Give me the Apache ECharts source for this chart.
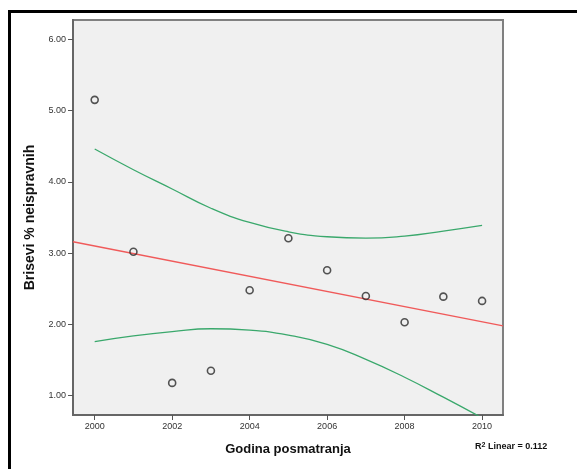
<!DOCTYPE html>
<html>
<head>
<meta charset="utf-8">
<script src="https://cdn.jsdelivr.net/npm/echarts@6/dist/echarts.min.js"></script>
<style>
  html, body { margin: 0; padding: 0; background: #fff; }
  #chart { width: 577px; height: 469px; }
</style>
</head>
<body>
<div id="chart"></div>
<script>
// podaci sa grafika
var godine = [2000, 2001, 2002, 2003, 2004, 2005, 2006, 2007, 2008, 2009, 2010];
var brisevi = [5.15, 3.02, 1.18, 1.35, 2.48, 3.21, 2.76, 2.40, 2.03, 2.39, 2.33];

// linearni fit (krajevi ocitani sa slike)
var fitX = [1999.44, 2010.54];
var fitY = [3.16, 1.98];

// granice intervala pouzdanosti
var gornja = [4.46, 4.17, 3.90, 3.63, 3.43, 3.30, 3.23, 3.21, 3.24, 3.31, 3.39];
var donja = [1.76, 1.84, 1.90, 1.94, 1.92, 1.85, 1.72, 1.51, 1.26, 0.98, 0.69];

var xTicks = [2000, 2002, 2004, 2006, 2008, 2010];
var yTicks = [1, 2, 3, 4, 5, 6];

function pairs(xs, ys) {
    return xs.map(function (x, i) { return [x, ys[i]]; });
}

var myChart = echarts.init(document.getElementById('chart'));
var option = {
    animation: false,
    textStyle: { fontFamily: 'Liberation Sans, Arial, sans-serif' },
    grid: {
        left: 73, top: 20, right: 74, bottom: 54,
        show: true,
        backgroundColor: '#f0f0f0',
        borderColor: '#808080',
        borderWidth: 2
    },
    xAxis: {
        type: 'value',
        min: 1999.44,
        max: 2010.54,
        name: 'Godina posmatranja',
        nameLocation: 'middle',
        nameGap: 28,
        nameTextStyle: { fontSize: 13, fontWeight: 'bold', color: '#111' },
        splitLine: { show: false },
        axisLine: { show: true, lineStyle: { color: '#666', width: 2 } },
        axisTick: { show: true, customValues: xTicks, length: 5, lineStyle: { color: '#555' } },
        axisLabel: {
            customValues: xTicks,
            fontSize: 9, color: '#333', margin: 7,
            formatter: function (v) { return String(v); }
        }
    },
    yAxis: {
        type: 'value',
        min: 0.73,
        max: 6.27,
        name: 'Brisevi % neispravnih',
        nameLocation: 'middle',
        nameGap: 35,
        nameRotate: 90,
        nameTextStyle: { fontSize: 14, fontWeight: 'bold', color: '#111' },
        splitLine: { show: false },
        axisLine: { show: true, lineStyle: { color: '#666', width: 2 } },
        axisTick: { show: true, customValues: yTicks, length: 5, lineStyle: { color: '#555' } },
        axisLabel: {
            customValues: yTicks,
            fontSize: 9, color: '#333', margin: 7,
            formatter: function (v) { return v.toFixed(2); }
        }
    },
    graphic: [
        {
            type: 'rect',
            shape: { x: 9.5, y: 11.5, width: 700, height: 600 },
            style: { fill: 'none', stroke: '#000', lineWidth: 3 },
            silent: true
        },
        {
            type: 'text',
            left: 475,
            top: 442,
            style: {
                text: '{b|R}{s|2}{b| Linear = 0.112}',
                rich: {
                    b: { fontSize: 9, fontWeight: 'bold', fill: '#111', fontFamily: 'Liberation Sans' },
                    s: { fontSize: 7, fontWeight: 'bold', fill: '#111', verticalAlign: 'top', fontFamily: 'Liberation Sans' }
                }
            }
        }
    ],
    series: [
        {
            name: 'gornja',
            type: 'line',
            smooth: true,
            showSymbol: false,
            lineStyle: { color: '#3aa86c', width: 1.3 },
            data: pairs(godine, gornja),
            z: 2
        },
        {
            name: 'donja',
            type: 'line',
            smooth: true,
            showSymbol: false,
            lineStyle: { color: '#3aa86c', width: 1.3 },
            data: pairs(godine, donja),
            z: 2
        },
        {
            name: 'fit',
            type: 'line',
            showSymbol: false,
            lineStyle: { color: '#f05a5a', width: 1.3 },
            data: pairs(fitX, fitY),
            z: 2
        },
        {
            name: 'brisevi',
            type: 'scatter',
            symbol: 'circle',
            symbolSize: 7,
            itemStyle: { color: 'rgba(0,0,0,0)', borderColor: '#2a2a2a', borderWidth: 1.6 },
            data: pairs(godine, brisevi),
            z: 3
        }
    ]
};
myChart.setOption(option, true);
</script>
</body>
</html>
